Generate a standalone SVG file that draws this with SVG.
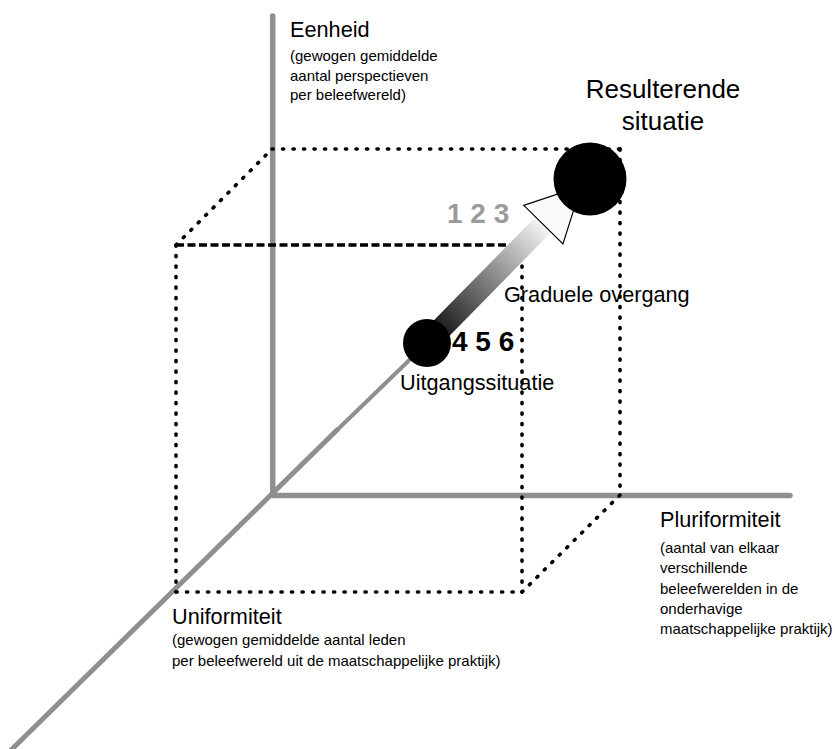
<svg xmlns="http://www.w3.org/2000/svg" width="835" height="749" viewBox="0 0 835 749">
  <style>
    text { font-family: "Liberation Sans", Arial, sans-serif; fill: #000; }
    .head { font-size: 21.7px; }
    .sub { font-size: 15px; }
    .big { font-size: 26px; }
    .num { font-size: 28px; font-weight: bold; }
    .axis { stroke: #8f8f8f; stroke-linecap: round; fill: none; }
    .dot { stroke: #000; stroke-width: 3.6; stroke-linecap: round; stroke-dasharray: 1.2 9.3; fill: none; }
    .dash { stroke: #000; stroke-width: 3.4; stroke-dasharray: 8 3.5; fill: none; }
  </style>
  <defs>
    <linearGradient id="shaftGrad" gradientUnits="userSpaceOnUse" x1="0" y1="0" x2="166" y2="0">
      <stop offset="0" stop-color="#000"/>
      <stop offset="1" stop-color="#f4f4f4"/>
    </linearGradient>
  </defs>
  <rect width="835" height="749" fill="#fff"/>

  <!-- axes -->
  <g id="axes">
    <line class="axis" x1="272.7" y1="16" x2="272.7" y2="495.5" stroke-width="5.5"/>
    <line class="axis" x1="272" y1="495.5" x2="790" y2="495.5" stroke-width="5.5"/>
    <line class="axis" x1="4" y1="757" x2="337" y2="430" stroke-width="5"/>
    <line class="axis" x1="334" y1="433" x2="427" y2="343" stroke-width="4"/>
  </g>

  <!-- labels -->
  <g id="label-eenheid">
    <text class="head" x="290" y="37">Eenheid</text>
    <text class="sub" x="290" y="61">(gewogen gemiddelde</text>
    <text class="sub" x="290" y="81">aantal perspectieven</text>
    <text class="sub" x="290" y="100">per beleefwereld)</text>
  </g>
  <g id="label-pluriformiteit">
    <text class="head" x="660" y="527">Pluriformiteit</text>
    <text class="sub" x="660" y="553">(aantal van elkaar</text>
    <text class="sub" x="660" y="573">verschillende</text>
    <text class="sub" x="660" y="594">beleefwerelden in de</text>
    <text class="sub" x="660" y="614">onderhavige</text>
    <text class="sub" x="660" y="634">maatschappelijke praktijk)</text>
  </g>
  <g id="label-uniformiteit">
    <text class="head" x="172" y="624">Uniformiteit</text>
    <text class="sub" x="172" y="645">(gewogen gemiddelde aantal leden</text>
    <text class="sub" x="172" y="666">per beleefwereld uit de maatschappelijke praktijk)</text>
  </g>
  <g id="label-graduele">
    <text class="head" x="504" y="302">Graduele overgang</text>
  </g>
  <g id="label-uitgang">
    <text class="head" x="400" y="390">Uitgangssituatie</text>
  </g>
  <g id="label-resulterende">
    <text class="big" x="663" y="98" text-anchor="middle">Resulterende</text>
    <text class="big" x="663" y="130" text-anchor="middle">situatie</text>
  </g>
  <g id="label-123">
    <text class="num" x="447" y="223" style="fill:#9a9a9a">1 2 3</text>
  </g>

  <!-- dotted cube -->
  <g id="cube">
    <line class="dash" x1="176" y1="245" x2="522" y2="245"/>
    <line class="dot" x1="176" y1="245" x2="176" y2="592"/>
    <line class="dot" x1="176" y1="592" x2="522" y2="592"/>
    <line class="dot" x1="522" y1="245" x2="522" y2="592"/>
    <line class="dot" x1="272" y1="149" x2="620" y2="149"/>
    <line class="dot" x1="620" y1="149" x2="620" y2="495"/>
    <line class="dot" x1="176" y1="245" x2="272" y2="149"/>
    <line class="dot" x1="522" y1="592" x2="620" y2="495"/>
    <line class="dot" x1="522" y1="245" x2="620" y2="149"/>
  </g>

  <!-- transition arrow -->
  <g id="connectors">
    <g transform="translate(427 343) rotate(-45.5)">
      <rect x="0" y="-11" width="166" height="22" fill="url(#shaftGrad)"/>
      <polygon points="166,-27.5 220,0 166,27.5" fill="#fafafa" stroke="#000" stroke-width="1.2"/>
    </g>
  </g>

  <g id="node-start">
    <circle cx="427" cy="343" r="24" fill="#000"/>
  </g>
  <g id="node-result">
    <circle cx="590" cy="179" r="36.5" fill="#000"/>
  </g>
  <g id="label-456">
    <text class="num" x="452" y="351">4 5 6</text>
  </g>
</svg>
